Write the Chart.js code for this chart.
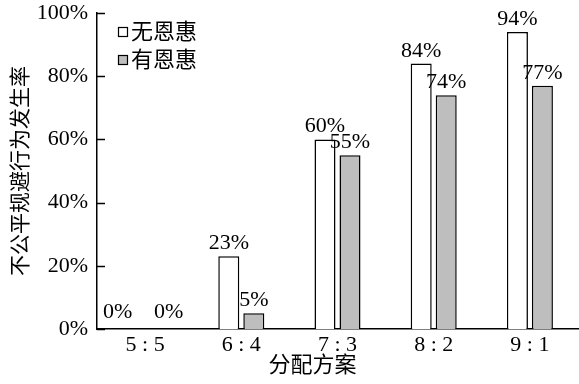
<!DOCTYPE html>
<html>
<head>
<meta charset="utf-8">
<script src="https://cdn.jsdelivr.net/npm/chart.js@4.4.1/dist/chart.umd.min.js"></script>
<style>
  html, body { margin: 0; padding: 0; background: #fff; }
  #wrap { width: 579px; height: 384px; }
</style>
</head>
<body>
<div id="wrap"><canvas id="c" width="579" height="384"></canvas></div>
<script>
const categories = ['5 : 5', '6 : 4', '7 : 3', '8 : 2', '9 : 1'];
const noFavor = [0, 23, 60, 84, 94];
const withFavor = [0, 5, 55, 74, 77];
const seriesNames = ['无恩惠', '有恩惠'];
const yTickValues = [0, 20, 40, 60, 80, 100];
const xTitle = '分配方案';
const yTitle = '不公平规避行为发生率';

const FAM = '"Liberation Serif", "Times New Roman", "Noto Sans CJK SC", serif';
const seriesFill = ['#ffffff', '#bebebe'];

const customDraw = {
  id: 'customDraw',
  afterDraw(chart) {
    const ctx = chart.ctx;
    const ca = chart.chartArea;
    const ys = chart.scales.y;
    const xs = chart.scales.x;
    ctx.save();
    // inward tick marks on y axis
    ctx.strokeStyle = '#000';
    ctx.lineWidth = 1.5;
    yTickValues.forEach(v => {
      const py = Math.round(ys.getPixelForValue(v)) + 0.5;
      ctx.beginPath();
      ctx.moveTo(ca.left, py);
      ctx.lineTo(ca.left + 8, py);
      ctx.stroke();
    });
    // value labels
    ctx.fillStyle = '#000';
    ctx.font = '22px ' + FAM;
    ctx.textAlign = 'center';
    ctx.textBaseline = 'alphabetic';
    chart.data.datasets.forEach((ds, di) => {
      const meta = chart.getDatasetMeta(di);
      meta.data.forEach((el, i) => {
        const v = ds.data[i];
        let x = el.x, y = el.y - 7;
        if (v === 0) { x += (di === 0 ? -15 : 11); y = el.y - 11; }
        ctx.fillText(v + '%', x, y);
      });
    });
    // legend inside plot area
    ctx.textAlign = 'left';
    ctx.textBaseline = 'middle';
    ctx.font = '22px ' + FAM;
    chart.data.datasets.forEach((ds, di) => {
      const bx = ca.left + 21;
      const cy = ca.top + 19 + di * 28;
      ctx.fillStyle = ds.backgroundColor;
      ctx.fillRect(bx, cy - 5, 10, 10);
      ctx.lineWidth = 1.2;
      ctx.strokeStyle = '#000';
      ctx.strokeRect(bx + 0.5, cy - 4.5, 9, 9);
      ctx.fillStyle = '#000';
      ctx.fillText(ds.label, bx + 13, cy + 1);
    });
    // x axis title
    ctx.textAlign = 'center';
    ctx.textBaseline = 'middle';
    ctx.font = '22px ' + FAM;
    ctx.fillText(xTitle, (xs.left + xs.right) / 2 - 25, 366);
    ctx.restore();
  }
};

new Chart(document.getElementById('c'), {
  type: 'bar',
  data: {
    labels: categories,
    datasets: [
      { label: seriesNames[0], data: noFavor, backgroundColor: seriesFill[0], borderColor: '#000', borderWidth: 1.5 },
      { label: seriesNames[1], data: withFavor, backgroundColor: seriesFill[1], borderColor: '#000', borderWidth: 1.5 }
    ]
  },
  options: {
    responsive: false,
    animation: false,
    devicePixelRatio: 1,
    layout: { padding: { top: 13, right: 1, bottom: 0, left: 0 } },
    datasets: { bar: { categoryPercentage: 0.52, barPercentage: 0.84 } },
    plugins: { legend: { display: false }, tooltip: { enabled: false } },
    scales: {
      x: {
        grid: { display: false, drawTicks: false },
        border: { display: true, color: '#000', width: 1.5 },
        ticks: { color: '#000', font: { family: FAM, size: 22 }, padding: 3, maxRotation: 0 },
        afterFit(s) { s.height = 55; s.paddingLeft = 0; s.paddingRight = 0; }
      },
      y: {
        min: 0, max: 100,
        afterBuildTicks(s) { s.ticks = yTickValues.map(v => ({ value: v })); },
        grid: { display: false, drawTicks: false },
        border: { display: true, color: '#000', width: 1.5 },
        ticks: { color: '#000', font: { family: FAM, size: 22 }, padding: 9, callback: v => v + '%' },
        title: { display: true, text: yTitle, color: '#000', font: { family: FAM, size: 21 }, padding: { top: 9, bottom: 0 } },
        afterFit(s) { s.width = 97; s.paddingTop = 0; s.paddingBottom = 0; }
      }
    }
  },
  plugins: [customDraw]
});
</script>
</body>
</html>
